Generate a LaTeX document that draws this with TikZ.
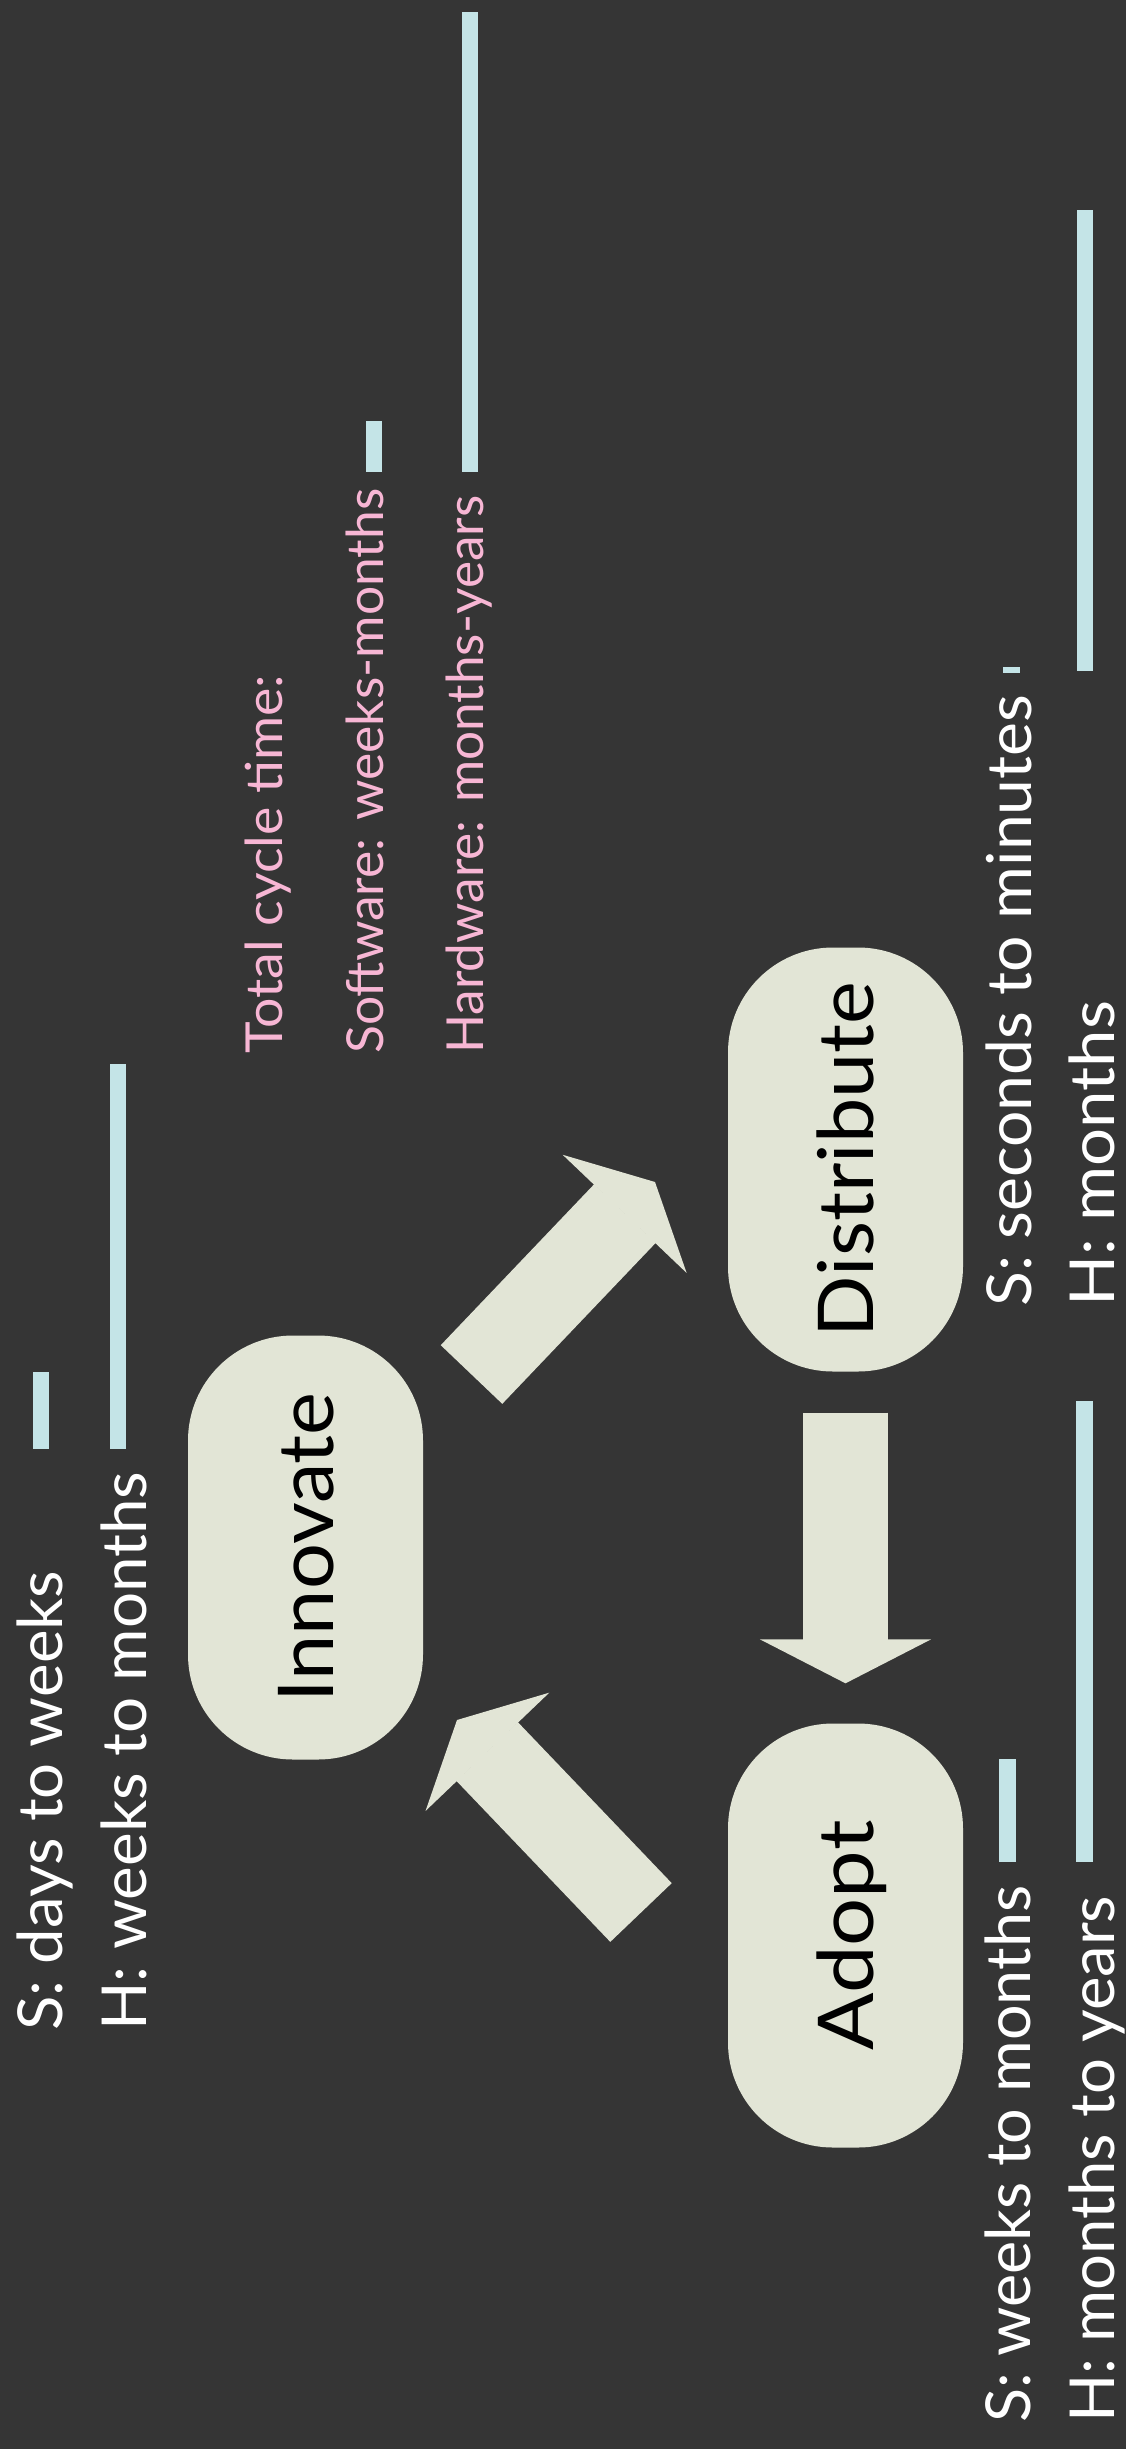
\documentclass[tikz,border=0pt]{standalone}
\usepackage{fontspec}
\setmainfont{Lato}
\usepackage{graphicx}
\usepackage{tikz}
\usetikzlibrary{arrows.meta,calc}
\definecolor{slidebg}{RGB}{53,53,53}
\definecolor{stagefill}{RGB}{226,229,214}
\definecolor{barblue}{RGB}{196,228,231}
\definecolor{cyclepink}{RGB}{247,182,212}
\newcommand{\fitw}[2]{\resizebox{#1pt}{\height}{#2}}
\newcommand{\stagetext}[2]{\rotatebox{90}{\raisebox{0pt}[\height][0pt]{\fitw{#1}{#2}}}}

\begin{document}
\begin{tikzpicture}[x=1pt,y=-1pt,
  stage/.style={fill=stagefill,rounded corners=105pt,minimum width=235pt,minimum height=424pt,inner sep=0pt,font=\fontsize{77}{80}\selectfont},
  timelabel/.style={rotate=90,anchor=base west,inner sep=0pt,text=white,font=\fontsize{62}{70}\selectfont},
  totallabel/.style={timelabel,text=cyclepink,font=\fontsize{51}{60}\selectfont},
  bar/.style={fill=barblue},
  flow/.style={stagefill,line width=85pt,-{Triangle[length=44pt,width=171pt,line width=2pt]}}]
\fill[slidebg] (0,0) rectangle (1126,2449);
\useasboundingbox (0,0) rectangle (1126,2449);
\node[stage] (innov) at (305.5,1547.5) {\stagetext{310}{Innovate}};
\node[stage] (distr) at (845.5,1159.5) {\stagetext{355}{Distribute}};
\node[stage] (adopt) at (845.5,1935.5) {\stagetext{230}{Adopt}};
\coordinate (upTail) at ($(innov.center)+(166,-173)$);
\coordinate (upTip) at ($(distr.center)+(-190.5,22.5)$);
\coordinate (downTail) at ($(distr.south)+(0,41)$);
\coordinate (downTip) at ($(adopt.north)+(0,-40)$);
\coordinate (backTail) at ($(adopt.center)+(-204.5,-23)$);
\coordinate (backTip) at ($(innov.center)+(151.5,172.5)$);
\draw[flow] (upTail) -- (upTip);
\draw[flow] (downTail) -- (downTip);
\draw[flow] (backTail) -- (backTip);
\node[totallabel] (totalT) at (282,1054) {\fitw{379}{Total cycle time:}};
\node[totallabel] (totalS) at (383,1054) {\fitw{565}{Software: weeks-months}};
\node[totallabel] (totalH) at (483,1054) {\fitw{558}{Hardware: months-years}};
\fill[bar] (366,421) rectangle (382,472);
\fill[bar] (462,12) rectangle (478,472);
\node[timelabel] (innovS) at (62,2031) {\fitw{460}{S: days to weeks}};
\node[timelabel] (innovH) at (146,2031) {\fitw{559}{H: weeks to months}};
\fill[bar] (33,1372) rectangle (49,1449);
\fill[bar] (110,1064) rectangle (126,1449);
\node[timelabel] (distrS) at (1031,1307) {\fitw{612}{S: seconds to minutes}};
\node[timelabel] (distrH) at (1114,1307) {\fitw{306}{H: months}};
\fill[bar] (1003,667) rectangle (1020,673);
\fill[bar] (1077,210) rectangle (1093,671);
\node[timelabel] (adoptS) at (1030,2423) {\fitw{537}{S: weeks to months}};
\node[timelabel] (adoptH) at (1114,2423) {\fitw{527}{H: months to years}};
\fill[bar] (999,1759) rectangle (1016,1862);
\fill[bar] (1076,1401) rectangle (1093,1862);
\end{tikzpicture}
\end{document}
